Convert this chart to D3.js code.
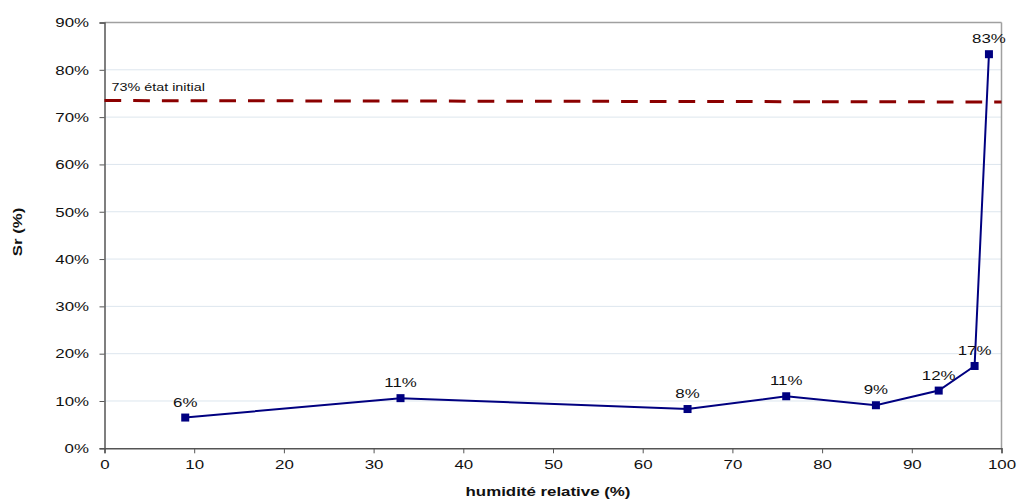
<!DOCTYPE html>
<html><head><meta charset="utf-8">
<script src="https://cdn.jsdelivr.net/npm/d3@7"></script>
<style>
body{margin:0;background:#fff;}
svg{font-family:"Liberation Sans",Arial,sans-serif;}
</style></head>
<body><svg id="c" width="1018" height="500"></svg>
<script>
const humidity = [9, 33, 65, 76, 86, 93, 97, 98.6];
const sr = [6.5, 10.6, 8.3, 11.0, 9.1, 12.2, 17.4, 83.3];
const labels = ["6%", "11%", "8%", "11%", "9%", "12%", "17%", "83%"];
const initialX = [0, 100];
const initialY = [73.5, 73.2];
const initialLabel = "73% état initial";
const xTicks = [0,10,20,30,40,50,60,70,80,90,100];
const yTicks = [0,10,20,30,40,50,60,70,80,90];

const SX = 1.25; // horizontal text stretch
const svg = d3.select("#c");
const L = 104.5, R = 1001.5, T = 22.5, B = 448.3;
const x = d3.scaleLinear().domain([0,100]).range([L,R]);
const y = d3.scaleLinear().domain([0,90]).range([B,T]);

// gridlines
svg.append("g").selectAll("line").data(yTicks.filter(d=>d>0 && d<90)).join("line")
  .attr("x1",L).attr("x2",R).attr("y1",d=>y(d)).attr("y2",d=>y(d))
  .attr("stroke","#dde6ee").attr("stroke-width",1);

// frame top and right
svg.append("line").attr("x1",L).attr("x2",R).attr("y1",T).attr("y2",T).attr("stroke","#a0a0a0").attr("stroke-width",1.5);
svg.append("line").attr("x1",R).attr("x2",R).attr("y1",T).attr("y2",B).attr("stroke","#a0a0a0").attr("stroke-width",1.5);

// axes
const yAxis = svg.append("g").attr("transform",`translate(${L},0)`)
  .call(d3.axisLeft(y).tickValues(yTicks).tickFormat(d=>d+"%").tickSize(5).tickPadding(7.4));
const xAxis = svg.append("g").attr("transform",`translate(0,${B})`)
  .call(d3.axisBottom(x).tickValues(xTicks).tickFormat(d3.format("d")).tickSize(5).tickPadding(6));
[yAxis,xAxis].forEach(a=>{
  a.select(".domain").attr("stroke","#555").attr("stroke-width",1.5);
  a.selectAll(".tick line").attr("stroke","#555");
  a.selectAll("text").attr("font-size",13.5).attr("fill","#111")
    .attr("font-family","Liberation Sans, Arial, sans-serif")
    .attr("transform",`scale(${SX},1)`);
});

// helper for stretched text
function stext(px, py, str, size, anchor, bold, rot){
  const t = svg.append("text")
    .attr("transform",`translate(${px},${py})` + (rot?` rotate(${rot})`:"") + ` scale(${SX},1)`)
    .attr("text-anchor",anchor).attr("font-size",size).attr("fill","#111").text(str);
  if(bold) t.attr("font-weight","bold");
  return t;
}

// initial dashed line
svg.append("line")
  .attr("x1",x(initialX[0])).attr("x2",x(initialX[1]))
  .attr("y1",y(initialY[0])).attr("y2",y(initialY[1]))
  .attr("stroke","#8b0000").attr("stroke-width",3).attr("stroke-dasharray","16.7,12");
stext(x(0)+7, y(initialY[0])-10, initialLabel, 11.5, "start");

// series
const data = humidity.map((h,i)=>({h, v:sr[i], l:labels[i]}));
svg.append("path").datum(data)
  .attr("d", d3.line().x(d=>x(d.h)).y(d=>y(d.v)))
  .attr("fill","none").attr("stroke","#000080").attr("stroke-width",2);
svg.append("g").selectAll("rect").data(data).join("rect")
  .attr("x",d=>x(d.h)-4).attr("y",d=>y(d.v)-4).attr("width",8).attr("height",8)
  .attr("fill","#000080");
svg.append("g").selectAll("text").data(data).join("text")
  .attr("transform",d=>`translate(${x(d.h)},${y(d.v)-11}) scale(${SX},1)`)
  .attr("text-anchor","middle").attr("font-size",13.5).attr("fill","#111")
  .text(d=>d.l);

// axis titles
stext(548, 496, "humidité relative (%)", 13.5, "middle", true);
stext(22, 232, "Sr (%)", 13.5, "middle", true, -90);
</script></body></html>
